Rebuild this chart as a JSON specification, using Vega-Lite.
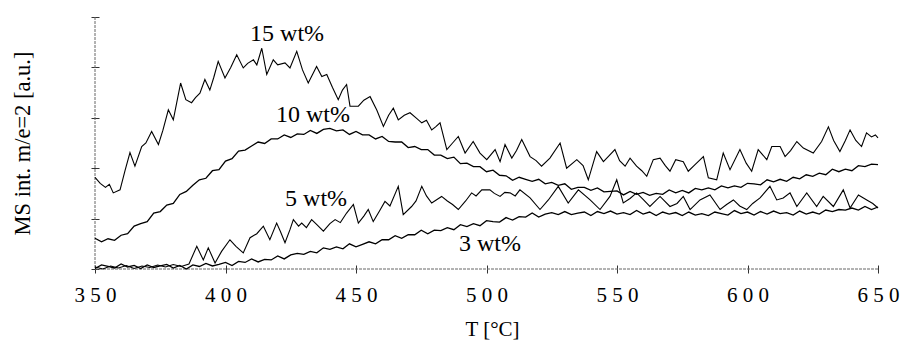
{
  "$schema": "https://vega.github.io/schema/vega-lite/v6.json",
  "autosize": {"type": "none"},
  "width": 783,
  "height": 252,
  "padding": {"left": 95, "top": 17, "right": 22, "bottom": 74},
  "background": "white",
  "config": {"view": {"stroke": null}, "font": "Liberation Serif"},
  "datasets": {
    "c15": [
      {"T":350,"v":1.82},{"T":352,"v":1.70},{"T":354,"v":1.62},{"T":355.5,"v":1.68},{"T":357,"v":1.51},{"T":359.6,"v":1.57},{"T":361.5,"v":1.95},{"T":363.4,"v":2.31},{"T":365.3,"v":2.04},{"T":367.9,"v":2.43},{"T":369.5,"v":2.50},{"T":371.7,"v":2.73},{"T":374.3,"v":2.47},{"T":376,"v":2.75},{"T":378.1,"v":3.16},{"T":380,"v":2.96},{"T":382.8,"v":3.69},{"T":384.8,"v":3.36},{"T":387,"v":3.30},{"T":388.5,"v":3.40},{"T":390.2,"v":3.49},{"T":392.1,"v":3.76},{"T":394,"v":3.55},{"T":395.5,"v":3.80},{"T":397.2,"v":4.12},{"T":399.8,"v":3.79},{"T":402,"v":4.00},{"T":404.3,"v":4.25},{"T":406.8,"v":3.99},{"T":408.5,"v":4.08},{"T":410.7,"v":4.15},{"T":412,"v":4.05},{"T":413.9,"v":4.38},{"T":415.8,"v":3.86},{"T":418.3,"v":4.15},{"T":420,"v":4.05},{"T":422.8,"v":4.09},{"T":424.7,"v":3.99},{"T":427.3,"v":4.32},{"T":429.5,"v":3.95},{"T":431.7,"v":3.69},{"T":434.9,"v":4.02},{"T":436.9,"v":3.82},{"T":438.8,"v":3.86},{"T":441,"v":3.60},{"T":443.2,"v":3.36},{"T":444.8,"v":3.55},{"T":446.4,"v":3.66},{"T":447.7,"v":3.23},{"T":450.9,"v":3.23},{"T":453,"v":3.35},{"T":455.4,"v":3.42},{"T":458,"v":3.15},{"T":460.5,"v":2.83},{"T":462.5,"v":3.05},{"T":464.3,"v":3.19},{"T":466.2,"v":2.96},{"T":468.5,"v":3.05},{"T":470.7,"v":3.10},{"T":473,"v":3.00},{"T":475.2,"v":2.90},{"T":477,"v":2.95},{"T":479,"v":2.76},{"T":480.5,"v":2.82},{"T":482.2,"v":2.90},{"T":484.8,"v":2.37},{"T":487,"v":2.50},{"T":489.2,"v":2.63},{"T":491.8,"v":2.30},{"T":494.9,"v":2.53},{"T":497.5,"v":2.30},{"T":500.1,"v":2.17},{"T":503.3,"v":2.37},{"T":505.2,"v":2.13},{"T":507.1,"v":2.47},{"T":509.7,"v":2.20},{"T":511.5,"v":2.35},{"T":513.5,"v":2.57},{"T":516.7,"v":2.23},{"T":519,"v":2.15},{"T":521.1,"v":2.04},{"T":524.3,"v":2.20},{"T":528.2,"v":2.50},{"T":530.7,"v":2.00},{"T":534.6,"v":2.17},{"T":537,"v":2.05},{"T":539,"v":1.77},{"T":542.2,"v":2.33},{"T":544.8,"v":2.13},{"T":547,"v":2.25},{"T":549.2,"v":2.37},{"T":551,"v":2.15},{"T":553.1,"v":2.04},{"T":555,"v":2.20},{"T":557.5,"v":2.04},{"T":559.5,"v":1.95},{"T":561.4,"v":1.84},{"T":563.9,"v":2.17},{"T":566.5,"v":2.20},{"T":568.5,"v":2.05},{"T":570.3,"v":1.94},{"T":572.5,"v":2.17},{"T":575.4,"v":2.13},{"T":577.3,"v":1.94},{"T":579.9,"v":2.07},{"T":583.1,"v":2.23},{"T":585,"v":1.81},{"T":588.2,"v":1.77},{"T":590.7,"v":2.30},{"T":593.3,"v":1.97},{"T":597.1,"v":2.37},{"T":599.5,"v":2.10},{"T":601.6,"v":1.94},{"T":604.1,"v":2.37},{"T":607.4,"v":2.17},{"T":609.3,"v":2.43},{"T":612.5,"v":2.43},{"T":614.4,"v":2.23},{"T":616.5,"v":2.35},{"T":618.9,"v":2.53},{"T":621.4,"v":2.40},{"T":625.2,"v":2.30},{"T":628.4,"v":2.53},{"T":631,"v":2.82},{"T":633,"v":2.55},{"T":635.4,"v":2.33},{"T":637.5,"v":2.55},{"T":639.3,"v":2.76},{"T":641.5,"v":2.55},{"T":643.7,"v":2.43},{"T":645.6,"v":2.70},{"T":647.5,"v":2.62},{"T":649,"v":2.66},{"T":650,"v":2.60}
    ],
    "c10": [
      {"T":350,"v":0.61},{"T":352.5,"v":0.54},{"T":355,"v":0.60},{"T":357.5,"v":0.57},{"T":360,"v":0.67},{"T":362.5,"v":0.70},{"T":365,"v":0.85},{"T":367.5,"v":0.90},{"T":370,"v":0.94},{"T":372.5,"v":1.11},{"T":375,"v":1.14},{"T":377.5,"v":1.27},{"T":380,"v":1.30},{"T":382.5,"v":1.48},{"T":385,"v":1.54},{"T":387.5,"v":1.66},{"T":390,"v":1.77},{"T":392.5,"v":1.80},{"T":395,"v":1.95},{"T":397.5,"v":1.97},{"T":400,"v":2.14},{"T":402.5,"v":2.19},{"T":405,"v":2.34},{"T":407.5,"v":2.36},{"T":410,"v":2.44},{"T":412.5,"v":2.52},{"T":415,"v":2.49},{"T":417.5,"v":2.58},{"T":420,"v":2.58},{"T":422.5,"v":2.66},{"T":425,"v":2.61},{"T":427.5,"v":2.68},{"T":430,"v":2.67},{"T":432.5,"v":2.75},{"T":435,"v":2.69},{"T":437.5,"v":2.77},{"T":440,"v":2.79},{"T":442.5,"v":2.74},{"T":445,"v":2.76},{"T":447.5,"v":2.67},{"T":450,"v":2.73},{"T":452.5,"v":2.66},{"T":455,"v":2.66},{"T":457.5,"v":2.58},{"T":460,"v":2.63},{"T":462.5,"v":2.53},{"T":465,"v":2.52},{"T":467.5,"v":2.52},{"T":470,"v":2.41},{"T":472.5,"v":2.43},{"T":475,"v":2.37},{"T":477.5,"v":2.37},{"T":480,"v":2.26},{"T":482.5,"v":2.26},{"T":485,"v":2.19},{"T":487.5,"v":2.22},{"T":490,"v":2.09},{"T":492.5,"v":2.10},{"T":495,"v":2.03},{"T":497.5,"v":2.03},{"T":500,"v":1.93},{"T":502.5,"v":1.96},{"T":505,"v":1.86},{"T":507.5,"v":1.85},{"T":510,"v":1.76},{"T":512.5,"v":1.82},{"T":515,"v":1.78},{"T":517.5,"v":1.74},{"T":520,"v":1.78},{"T":522.5,"v":1.69},{"T":525,"v":1.72},{"T":527.5,"v":1.66},{"T":530,"v":1.69},{"T":532.5,"v":1.58},{"T":535,"v":1.62},{"T":537.5,"v":1.62},{"T":540,"v":1.56},{"T":542.5,"v":1.61},{"T":545,"v":1.53},{"T":547.5,"v":1.54},{"T":550,"v":1.55},{"T":552.5,"v":1.47},{"T":555,"v":1.54},{"T":557.5,"v":1.48},{"T":560,"v":1.52},{"T":562.5,"v":1.46},{"T":565,"v":1.50},{"T":567.5,"v":1.48},{"T":570,"v":1.57},{"T":572.5,"v":1.51},{"T":575,"v":1.56},{"T":577.5,"v":1.51},{"T":580,"v":1.60},{"T":582.5,"v":1.57},{"T":585,"v":1.61},{"T":587.5,"v":1.57},{"T":590,"v":1.65},{"T":592.5,"v":1.61},{"T":595,"v":1.65},{"T":597.5,"v":1.62},{"T":600,"v":1.70},{"T":602.5,"v":1.69},{"T":605,"v":1.67},{"T":607.5,"v":1.77},{"T":610,"v":1.73},{"T":612.5,"v":1.78},{"T":615,"v":1.74},{"T":617.5,"v":1.82},{"T":620,"v":1.79},{"T":622.5,"v":1.87},{"T":625,"v":1.84},{"T":627.5,"v":1.90},{"T":630,"v":1.87},{"T":632.5,"v":1.98},{"T":635,"v":1.93},{"T":637.5,"v":1.98},{"T":640,"v":1.95},{"T":642.5,"v":2.05},{"T":645,"v":2.03},{"T":647.5,"v":2.08},{"T":650,"v":2.07}
    ],
    "c5": [
      {"T":350,"v":0.04},{"T":353,"v":0.00},{"T":356,"v":0.06},{"T":359,"v":0.02},{"T":362,"v":0.07},{"T":365,"v":0.01},{"T":368,"v":0.06},{"T":371,"v":0.03},{"T":374,"v":0.08},{"T":377,"v":0.04},{"T":380,"v":0.09},{"T":383,"v":0.05},{"T":386,"v":0.10},{"T":389,"v":0.45},{"T":391.5,"v":0.18},{"T":393.4,"v":0.42},{"T":396,"v":0.12},{"T":398.5,"v":0.35},{"T":401.7,"v":0.58},{"T":404,"v":0.45},{"T":406.8,"v":0.32},{"T":409.4,"v":0.62},{"T":412,"v":0.70},{"T":414.5,"v":0.85},{"T":417,"v":0.58},{"T":419.6,"v":0.91},{"T":421,"v":0.75},{"T":422.8,"v":0.52},{"T":424.7,"v":0.78},{"T":426,"v":0.98},{"T":428,"v":0.85},{"T":429.2,"v":0.91},{"T":431,"v":0.82},{"T":433,"v":0.98},{"T":435,"v":0.88},{"T":437.5,"v":0.75},{"T":440,"v":0.90},{"T":442,"v":0.98},{"T":444,"v":0.92},{"T":446.4,"v":1.11},{"T":449,"v":1.28},{"T":450.9,"v":0.91},{"T":453,"v":1.05},{"T":454.7,"v":1.18},{"T":456.6,"v":0.94},{"T":459,"v":1.15},{"T":461.1,"v":1.34},{"T":463,"v":1.25},{"T":466.2,"v":1.64},{"T":468.1,"v":1.08},{"T":471.3,"v":1.24},{"T":473,"v":1.35},{"T":475.2,"v":1.64},{"T":477,"v":1.45},{"T":479,"v":1.31},{"T":482.8,"v":1.44},{"T":485,"v":1.35},{"T":487,"v":1.28},{"T":489.2,"v":1.18},{"T":492,"v":1.35},{"T":494.3,"v":1.51},{"T":496,"v":1.45},{"T":498.2,"v":1.57},{"T":501.3,"v":1.57},{"T":503,"v":1.50},{"T":505.2,"v":1.44},{"T":507,"v":1.52},{"T":509,"v":1.51},{"T":511,"v":1.45},{"T":512.8,"v":1.57},{"T":516.7,"v":1.41},{"T":520.5,"v":1.18},{"T":523.7,"v":1.37},{"T":527.5,"v":1.64},{"T":531.3,"v":1.31},{"T":535.2,"v":1.57},{"T":539.7,"v":1.37},{"T":543.5,"v":1.18},{"T":547.3,"v":1.44},{"T":549.9,"v":1.77},{"T":552.4,"v":1.31},{"T":555,"v":1.40},{"T":557.5,"v":1.51},{"T":560,"v":1.38},{"T":562.6,"v":1.24},{"T":566.5,"v":1.44},{"T":570.3,"v":1.24},{"T":573,"v":1.30},{"T":575.4,"v":1.44},{"T":578,"v":1.18},{"T":581.8,"v":1.37},{"T":585.6,"v":1.47},{"T":589.5,"v":1.18},{"T":592,"v":1.28},{"T":594.6,"v":1.37},{"T":597,"v":1.25},{"T":599.7,"v":1.18},{"T":602,"v":1.30},{"T":604.8,"v":1.41},{"T":608.6,"v":1.64},{"T":611.2,"v":1.37},{"T":613.7,"v":1.41},{"T":616.3,"v":1.51},{"T":618.9,"v":1.24},{"T":622.7,"v":1.51},{"T":626.5,"v":1.24},{"T":629,"v":1.44},{"T":632.9,"v":1.24},{"T":636.7,"v":1.57},{"T":639.3,"v":1.21},{"T":642.5,"v":1.47},{"T":645.7,"v":1.37},{"T":648,"v":1.30},{"T":650,"v":1.21}
    ],
    "c3": [
      {"T":350,"v":0.01},{"T":352.5,"v":0.08},{"T":355,"v":0.05},{"T":357.5,"v":0.02},{"T":360,"v":0.10},{"T":362.5,"v":0.04},{"T":365,"v":0.07},{"T":367.5,"v":0.01},{"T":370,"v":0.08},{"T":372.5,"v":0.03},{"T":375,"v":0.06},{"T":377.5,"v":0.09},{"T":380,"v":0.02},{"T":382.5,"v":0.07},{"T":385,"v":0.00},{"T":387.5,"v":0.08},{"T":390,"v":0.05},{"T":392.5,"v":0.11},{"T":395,"v":0.06},{"T":397.5,"v":0.09},{"T":400,"v":0.13},{"T":402.5,"v":0.07},{"T":405,"v":0.15},{"T":407.5,"v":0.13},{"T":410,"v":0.20},{"T":412.5,"v":0.14},{"T":415,"v":0.19},{"T":417.5,"v":0.18},{"T":420,"v":0.26},{"T":422.5,"v":0.20},{"T":425,"v":0.28},{"T":427.5,"v":0.31},{"T":430,"v":0.29},{"T":432.5,"v":0.35},{"T":435,"v":0.32},{"T":437.5,"v":0.42},{"T":440,"v":0.39},{"T":442.5,"v":0.44},{"T":445,"v":0.40},{"T":447.5,"v":0.50},{"T":450,"v":0.44},{"T":452.5,"v":0.49},{"T":455,"v":0.54},{"T":457.5,"v":0.50},{"T":460,"v":0.58},{"T":462.5,"v":0.58},{"T":465,"v":0.66},{"T":467.5,"v":0.61},{"T":470,"v":0.68},{"T":472.5,"v":0.68},{"T":475,"v":0.77},{"T":477.5,"v":0.70},{"T":480,"v":0.77},{"T":482.5,"v":0.76},{"T":485,"v":0.82},{"T":487.5,"v":0.78},{"T":490,"v":0.88},{"T":492.5,"v":0.84},{"T":495,"v":0.90},{"T":497.5,"v":0.86},{"T":500,"v":0.96},{"T":502.5,"v":0.94},{"T":505,"v":0.93},{"T":507.5,"v":1.02},{"T":510,"v":0.97},{"T":512.5,"v":1.04},{"T":515,"v":1.03},{"T":517.5,"v":1.11},{"T":520,"v":1.03},{"T":522.5,"v":1.09},{"T":525,"v":1.12},{"T":527.5,"v":1.08},{"T":530,"v":1.14},{"T":532.5,"v":1.08},{"T":535,"v":1.11},{"T":537.5,"v":1.13},{"T":540,"v":1.06},{"T":542.5,"v":1.14},{"T":545,"v":1.10},{"T":547.5,"v":1.15},{"T":550,"v":1.09},{"T":552.5,"v":1.12},{"T":555,"v":1.08},{"T":557.5,"v":1.16},{"T":560,"v":1.09},{"T":562.5,"v":1.13},{"T":565,"v":1.06},{"T":567.5,"v":1.13},{"T":570,"v":1.09},{"T":572.5,"v":1.12},{"T":575,"v":1.06},{"T":577.5,"v":1.13},{"T":580,"v":1.07},{"T":582.5,"v":1.10},{"T":585,"v":1.06},{"T":587.5,"v":1.13},{"T":590,"v":1.10},{"T":592.5,"v":1.07},{"T":595,"v":1.16},{"T":597.5,"v":1.10},{"T":600,"v":1.13},{"T":602.5,"v":1.07},{"T":605,"v":1.14},{"T":607.5,"v":1.09},{"T":610,"v":1.15},{"T":612.5,"v":1.10},{"T":615,"v":1.12},{"T":617.5,"v":1.07},{"T":620,"v":1.15},{"T":622.5,"v":1.09},{"T":625,"v":1.13},{"T":627.5,"v":1.09},{"T":630,"v":1.17},{"T":632.5,"v":1.14},{"T":635,"v":1.18},{"T":637.5,"v":1.17},{"T":640,"v":1.21},{"T":642.5,"v":1.17},{"T":645,"v":1.24},{"T":647.5,"v":1.18},{"T":650,"v":1.23}
    ],
    "labels": [
      {"T":423.6,"v":4.67,"label":"15 wt%"},
      {"T":433.5,"v":3.06,"label":"10 wt%"},
      {"T":434.7,"v":1.38,"label":"5 wt%"},
      {"T":501.3,"v":0.50,"label":"3 wt%"}
    ]
  },
  "layer": [
    {
      "data": {"values": [{}]},
      "mark": {"type": "rule", "color": "#666", "strokeWidth": 1, "strokeDash": [3, 1]},
      "encoding": {"y": {"datum": 0, "type": "quantitative", "scale": {"domain": [0, 5], "nice": false, "zero": false}}}
    },
    {
      "data": {"values": [{}]},
      "mark": {"type": "rule", "color": "#666", "strokeWidth": 1, "strokeDash": [3, 1]},
      "encoding": {"x": {"datum": 350, "type": "quantitative", "scale": {"domain": [350, 650], "nice": false, "zero": false}}}
    },
    {
      "data": {"name": "c15"},
      "mark": {"type": "line", "color": "black", "strokeWidth": 1.1},
      "encoding": {
        "x": {"field": "T", "type": "quantitative", "scale": {"domain": [350, 650], "nice": false, "zero": false}, "axis": {
          "values": [350, 400, 450, 500, 550, 600, 650],
          "labelExpr": "join(split(datum.label, ''), ' ')",
          "domain": false, "grid": false, "offset": -4, "tickSize": 8, "tickColor": "#333",
          "labelFont": "Liberation Serif", "labelFontSize": 21, "labelColor": "black", "labelPadding": 11,
          "labelFlush": false, "labelOverlap": false,
          "title": "T [°C]", "titleFont": "Liberation Serif", "titleFontSize": 21, "titleFontWeight": "normal", "titleColor": "black",
          "titleX": 397, "titleY": 64, "titleBaseline": "middle", "titleAlign": "center"
        }},
        "y": {"field": "v", "type": "quantitative", "scale": {"domain": [0, 5], "nice": false, "zero": false}, "axis": {
          "values": [0, 1, 2, 3, 4, 5], "labels": false,
          "domain": false, "grid": false, "offset": -4, "tickSize": 8, "tickColor": "#333",
          "title": "MS int. m/e=2 [a.u.]", "titleFont": "Liberation Serif", "titleFontSize": 22.5, "titleFontWeight": "normal", "titleColor": "black",
          "titleX": -77, "titleY": 126, "titleAngle": 270, "titleBaseline": "middle", "titleAlign": "center"
        }}
      }
    },
    {"data": {"name": "c10"}, "mark": {"type": "line", "color": "black", "strokeWidth": 1.3},
     "encoding": {"x": {"field": "T", "type": "quantitative"}, "y": {"field": "v", "type": "quantitative"}}},
    {"data": {"name": "c5"}, "mark": {"type": "line", "color": "black", "strokeWidth": 1.1},
     "encoding": {"x": {"field": "T", "type": "quantitative"}, "y": {"field": "v", "type": "quantitative"}}},
    {"data": {"name": "c3"}, "mark": {"type": "line", "color": "black", "strokeWidth": 1.3},
     "encoding": {"x": {"field": "T", "type": "quantitative"}, "y": {"field": "v", "type": "quantitative"}}},
    {
      "data": {"name": "labels"},
      "mark": {"type": "text", "font": "Liberation Serif", "fontSize": 24, "color": "black", "align": "center", "baseline": "middle"},
      "encoding": {"x": {"field": "T", "type": "quantitative"}, "y": {"field": "v", "type": "quantitative"}, "text": {"field": "label"}}
    }
  ]
}
